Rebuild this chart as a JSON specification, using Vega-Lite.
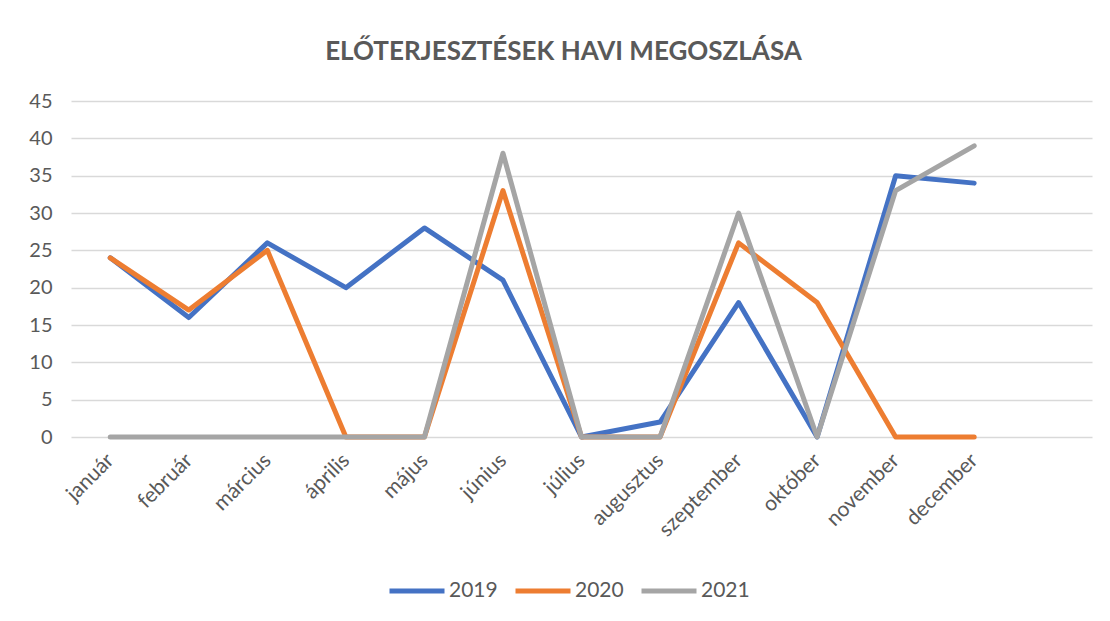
{
  "$schema": "https://vega.github.io/schema/vega-lite/v6.json",
  "autosize": {"type": "none"},
  "width": 1021,
  "height": 336,
  "padding": {"left": 71, "top": 101, "right": 18, "bottom": 184},
  "background": "white",
  "config": {
    "view": {"stroke": null},
    "font": "Lato"
  },
  "title": {
    "text": "ELŐTERJESZTÉSEK HAVI MEGOSZLÁSA",
    "font": "Lato",
    "fontSize": 26,
    "fontWeight": "bold",
    "color": "#595959",
    "anchor": "middle",
    "offset": 26,
    "dx": -18
  },
  "data": {
    "values": [
      {"honap": "január", "ev": "2019", "ertek": 24},
      {"honap": "február", "ev": "2019", "ertek": 16},
      {"honap": "március", "ev": "2019", "ertek": 26},
      {"honap": "április", "ev": "2019", "ertek": 20},
      {"honap": "május", "ev": "2019", "ertek": 28},
      {"honap": "június", "ev": "2019", "ertek": 21},
      {"honap": "július", "ev": "2019", "ertek": 0},
      {"honap": "augusztus", "ev": "2019", "ertek": 2},
      {"honap": "szeptember", "ev": "2019", "ertek": 18},
      {"honap": "október", "ev": "2019", "ertek": 0},
      {"honap": "november", "ev": "2019", "ertek": 35},
      {"honap": "december", "ev": "2019", "ertek": 34},
      {"honap": "január", "ev": "2020", "ertek": 24},
      {"honap": "február", "ev": "2020", "ertek": 17},
      {"honap": "március", "ev": "2020", "ertek": 25},
      {"honap": "április", "ev": "2020", "ertek": 0},
      {"honap": "május", "ev": "2020", "ertek": 0},
      {"honap": "június", "ev": "2020", "ertek": 33},
      {"honap": "július", "ev": "2020", "ertek": 0},
      {"honap": "augusztus", "ev": "2020", "ertek": 0},
      {"honap": "szeptember", "ev": "2020", "ertek": 26},
      {"honap": "október", "ev": "2020", "ertek": 18},
      {"honap": "november", "ev": "2020", "ertek": 0},
      {"honap": "december", "ev": "2020", "ertek": 0},
      {"honap": "január", "ev": "2021", "ertek": 0},
      {"honap": "február", "ev": "2021", "ertek": 0},
      {"honap": "március", "ev": "2021", "ertek": 0},
      {"honap": "április", "ev": "2021", "ertek": 0},
      {"honap": "május", "ev": "2021", "ertek": 0},
      {"honap": "június", "ev": "2021", "ertek": 38},
      {"honap": "július", "ev": "2021", "ertek": 0},
      {"honap": "augusztus", "ev": "2021", "ertek": 0},
      {"honap": "szeptember", "ev": "2021", "ertek": 30},
      {"honap": "október", "ev": "2021", "ertek": 0},
      {"honap": "november", "ev": "2021", "ertek": 33},
      {"honap": "december", "ev": "2021", "ertek": 39}
    ]
  },
  "mark": {"type": "line", "strokeWidth": 5, "strokeCap": "round", "strokeJoin": "round"},
  "encoding": {
    "x": {
      "field": "honap",
      "type": "ordinal",
      "scale": {
        "type": "point",
        "padding": 0.5,
        "domain": ["január", "február", "március", "április", "május", "június", "július", "augusztus", "szeptember", "október", "november", "december", " "]
      },
      "axis": {
        "title": null,
        "domain": false,
        "ticks": false,
        "tickSize": 0,
        "grid": false,
        "labelAngle": -45,
        "labelAlign": "right",
        "labelBaseline": "middle",
        "labelPadding": 20,
        "labelFont": "Lato",
        "labelFontSize": 21,
        "labelColor": "#595959"
      }
    },
    "y": {
      "field": "ertek",
      "type": "quantitative",
      "scale": {"domain": [0, 45], "nice": false},
      "axis": {
        "title": null,
        "values": [0, 5, 10, 15, 20, 25, 30, 35, 40, 45],
        "domain": false,
        "ticks": false,
        "tickSize": 0,
        "labelPadding": 19,
        "labelFont": "Lato",
        "labelFontSize": 20,
        "labelColor": "#595959",
        "gridColor": "#d9d9d9",
        "gridWidth": 1.4
      }
    },
    "color": {
      "field": "ev",
      "type": "nominal",
      "scale": {"domain": ["2019", "2020", "2021"], "range": ["#4472C4", "#ED7D31", "#A5A5A5"]},
      "legend": {
        "title": null,
        "orient": "none",
        "direction": "horizontal",
        "legendX": 316,
        "legendY": 460,
        "symbolType": "stroke",
        "symbolSize": 3025,
        "symbolStrokeWidth": 5,
        "labelFont": "Lato",
        "labelFontSize": 21,
        "labelColor": "#595959",
        "labelOffset": 2,
        "columnPadding": 7
      }
    }
  }
}
